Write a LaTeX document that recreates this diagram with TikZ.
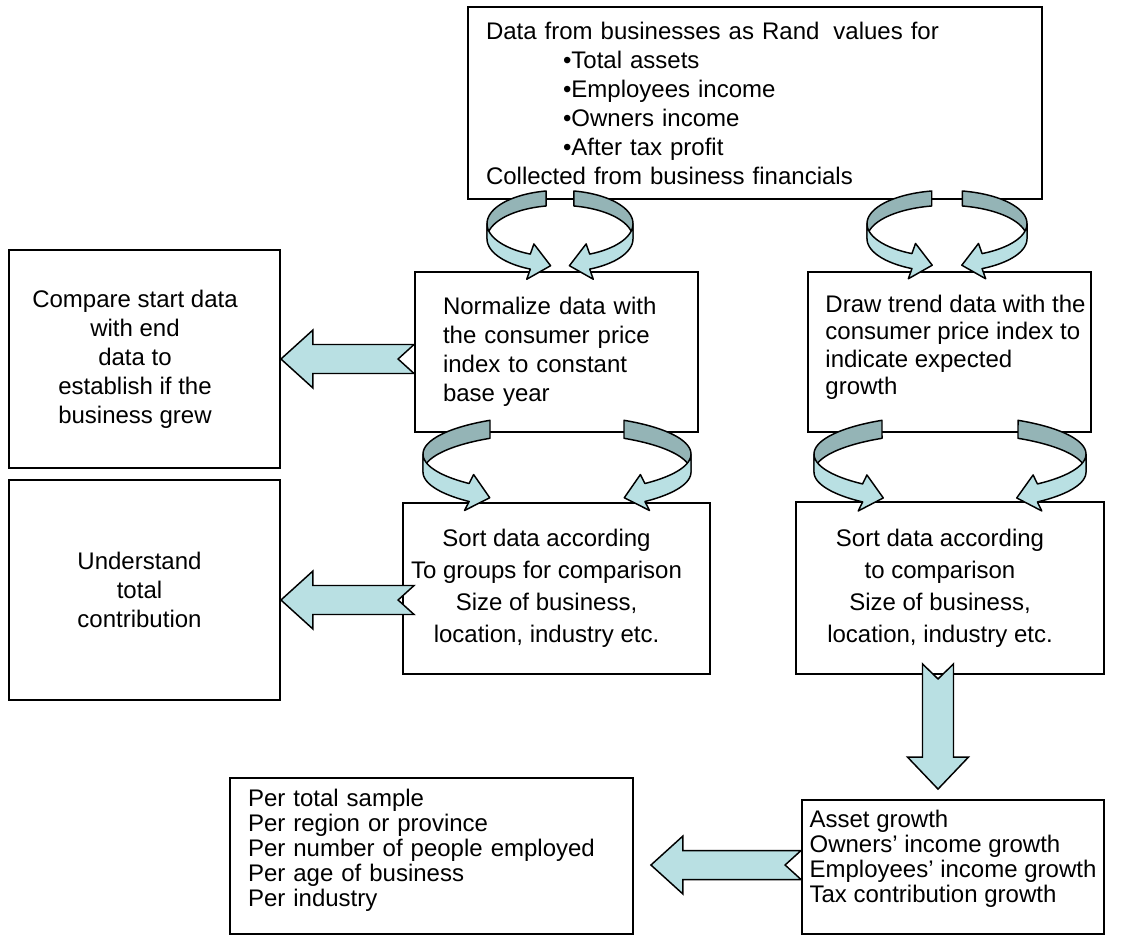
\documentclass[tikz,border=0pt]{standalone}
\usepackage{fontspec}
\setmainfont{Liberation Sans}
\usetikzlibrary{positioning,calc}

\newdimen\px
\px=0.75pt

\definecolor{curlback}{RGB}{148,180,182}
\definecolor{curlfront}{RGB}{185,224,227}

% blank space kept at a line end
\newcommand{\pad}[1]{\rule{#1\px}{0pt}}

% left pointing block arrow: #1 tip, #2 tail
\newcommand{\blockleft}[2]{%
  \filldraw[blockarrow] (#1) -- ([shift={(32,-29)}]#1) -- ([shift={(32,-14.5)}]#1)
    -- ([shift={(0,-14.5)}]#2) -- ([shift={(-16,0)}]#2) -- ([shift={(0,14.5)}]#2)
    -- ([shift={(32,14.5)}]#1) -- ([shift={(32,29)}]#1) -- cycle;}

% downward block arrow: #1 tip, #2 tail
\newcommand{\blockdown}[2]{%
  \filldraw[blockarrow] (#1) -- ([shift={(-30.5,-32)}]#1) -- ([shift={(-15.5,-32)}]#1)
    -- ([shift={(-15.5,0)}]#2) -- ([shift={(0,15)}]#2) -- ([shift={(15.5,0)}]#2)
    -- ([shift={(15.5,-32)}]#1) -- ([shift={(30.5,-32)}]#1) -- cycle;}

% pair of curled ribbon arrows: #1 centre, #2 rx, #3 ry, #4 band, #5 start, #6 end, #7 head
\newcommand{\curlpair}[7]{%
  \begin{scope}[shift={(#1)}]
  \foreach \s in {1,-1}{
    \pgfmathsetmacro{\ex}{\s*#2*cos(#6)}
    \pgfmathsetmacro{\ey}{-#3*sin(#6)+#4/2}
    \pgfmathsetmacro{\dir}{atan2(-#3*cos(#6),-(\s)*#2*sin(#6))}
    \pgfmathsetmacro{\nx}{\s*sin(\dir)}
    \pgfmathsetmacro{\ny}{-(\s)*cos(\dir)}
    \filldraw[curl, fill=curlback]
      plot[domain=#5:180, samples=30] ({\s*#2*cos(\x)},{-#3*sin(\x)})
      -- plot[domain=180:#5, samples=30] ({\s*#2*cos(\x)},{-#3*sin(\x)+#4}) -- cycle;
    \filldraw[curl, fill=curlfront]
      plot[domain=180:#6, samples=30] ({\s*#2*cos(\x)},{-#3*sin(\x)})
      -- ({\ex+#7*\nx},{\ey+#7*\ny})
      -- ({\ex+1.15*#7*cos(\dir)},{\ey+1.15*#7*sin(\dir)})
      -- ({\ex-#7*\nx},{\ey-#7*\ny})
      -- plot[domain=#6:180, samples=30] ({\s*#2*cos(\x)},{-#3*sin(\x)+#4}) -- cycle;
  }
  \end{scope}}

\begin{document}
\begin{tikzpicture}[x=0.75pt, y=-0.75pt,
    boxnode/.style={rectangle, draw=black, line width=1.4pt, fill=white, inner sep=0pt,
        font=\fontsize{18}{21.75}\selectfont},
    blockarrow/.style={draw=black, line width=1.1pt, fill=curlfront, line join=miter},
    curl/.style={draw=black, line width=1.1pt, line join=round}
    ]
        \fill[white] (0,0) rectangle (1123,936);
        \useasboundingbox (0,0) rectangle (1123,936);

        %Nodes
        \node[boxnode, minimum width=574\px, minimum height=192\px, text width=538\px, align=left]
            (data) at (755,103) {Data from businesses as Rand\hspace{0.25em} values for\\
            \hspace*{77\px}•Total assets\\
            \hspace*{77\px}•Employees income\\
            \hspace*{77\px}•Owners income\\
            \hspace*{77\px}•After tax profit\\
            Collected from business financials};
        \node[boxnode, minimum width=271\px, minimum height=218\px, align=center]
            (compare) at (144.5,359) {Compare start data\pad{19}\\with end\pad{19}\\
            data to\pad{19}\\establish if the\pad{19}\\business grew\pad{19}};
        \node[boxnode, minimum width=283\px, minimum height=160\px, text width=227\px, align=left]
            (normalize) at (556.5,352) {Normalize data with\\
            \makebox[227\px][s]{the consumer price}\\
            \makebox[227\px][s]{index to constant}\\
            base year};
        \node[boxnode, minimum width=283\px, minimum height=160\px, align=left, text depth=14\px,
            font=\fontsize{18}{20.6}\selectfont]
            (trend) at (949.5,352) {\hspace*{12\px}Draw trend data with the\\\hspace*{12\px}consumer price index to\\
            \hspace*{12\px}indicate expected\\\hspace*{12\px}growth};
        \node[boxnode, minimum width=271\px, minimum height=220\px, align=center]
            (understand) at (144.5,590) {Understand\pad{10}\\total\pad{10}\\contribution\pad{10}};
        \node[boxnode, minimum width=307\px, minimum height=171\px, align=center,
            font=\fontsize{18}{24}\selectfont]
            (sortmid) at (556.5,588.5) {Sort data according\pad{20}\\To groups for comparison\pad{20}\\
            Size of business,\pad{20}\\location, industry etc.\pad{20}};
        \node[boxnode, minimum width=308\px, minimum height=172\px, align=center,
            font=\fontsize{18}{24}\selectfont]
            (sortright) at (950,588) {Sort data according\pad{20}\\to comparison\pad{20}\\
            Size of business,\pad{20}\\location, industry etc.\pad{20}};
        \node[boxnode, minimum width=403\px, minimum height=156\px, text width=367\px, align=left,
            text depth=117\px, font=\fontsize{18}{18.75}\selectfont]
            (perbox) at (431.5,856) {Per total sample\\Per region or province\\Per number of people employed\\Per age of business\\Per industry};
        \node[boxnode, minimum width=302\px, minimum height=134\px, align=left,
            text depth=21\px, font=\fontsize{18}{18.75}\selectfont]
            (growth) at (953,867) {Asset growth\\Owners’ income growth\\Employees’ income growth\\Tax contribution growth};

        %Arrows
        \coordinate (tipA) at (compare.east);
        \coordinate (tipB) at ([shift={(0,10)}]understand.east);
        \coordinate (tipC) at ([shift={(17,9)}]perbox.east);
        \coordinate (tailD) at ([shift={(-12,-11)}]sortright.south);
        \coordinate (tipD) at ([shift={(0,-10)}]tailD |- growth.north);
        \blockleft{tipA}{tipA -| normalize.west}
        \blockleft{tipB}{tipB -| normalize.west}
        \blockleft{tipC}{tipC -| growth.west}
        \blockdown{tipD}{tailD}

        %Curls
        \coordinate (curlA) at ([shift={(3.5,-47.4)}]normalize.north);
        \coordinate (curlB) at ([shift={(-2.5,-47.4)}]trend.north);
        \coordinate (curlC) at ([shift={(0.5,-48)}]sortmid.north);
        \coordinate (curlD) at ([shift={(0,-47)}]sortright.north);
        \curlpair{curlA}{73}{33.3}{15}{101}{246}{18}
        \curlpair{curlB}{80}{33.3}{15}{101}{244}{18}
        \curlpair{curlC}{134}{39}{18}{120}{229}{18.5}
        \curlpair{curlD}{136}{39}{18}{120}{230}{18.5}
    \end{tikzpicture}
\end{document}
